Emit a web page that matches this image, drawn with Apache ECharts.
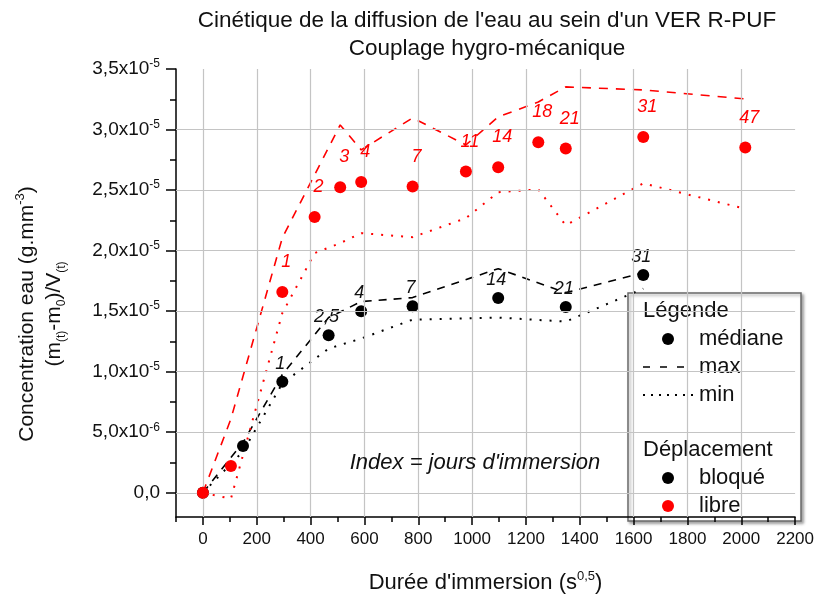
<!DOCTYPE html>
<html>
<head>
<meta charset="utf-8">
<script src="https://cdn.jsdelivr.net/npm/echarts@6/dist/echarts.min.js"></script>
<style>
  html, body { margin: 0; padding: 0; background: #ffffff; }
  #chart { width: 817px; height: 601px; }
</style>
</head>
<body>
<div id="chart"></div>
<script>
// Durée d'immersion (s^0,5) — déplacement libre
const libreTemps   = [0, 104, 295, 415, 510, 588, 779, 977, 1097, 1246, 1348, 1636, 2015];
const libreMediane = [0, 0.221e-5, 1.659e-5, 2.277e-5, 2.524e-5, 2.566e-5, 2.529e-5, 2.653e-5, 2.689e-5, 2.895e-5, 2.843e-5, 2.939e-5, 2.851e-5];
const libreMax     = [0, 0.610e-5, 2.106e-5, 2.626e-5, 3.038e-5, 2.832e-5, 3.096e-5, 2.873e-5, 3.104e-5, 3.228e-5, 3.352e-5, 3.327e-5, 3.253e-5];
const libreMin     = [0, -0.049e-5, 1.484e-5, 1.979e-5, 2.062e-5, 2.144e-5, 2.111e-5, 2.268e-5, 2.482e-5, 2.506e-5, 2.209e-5, 2.556e-5, 2.345e-5];
const libreJours   = ['', '', '1', '2', '3', '4', '7', '11', '14', '18', '21', '31', '47'];

// Durée d'immersion (s^0,5) — déplacement bloqué
const bloqueTemps   = [0, 149, 295, 467, 588, 779, 1097, 1348, 1636];
const bloqueMediane = [0, 0.386e-5, 0.917e-5, 1.301e-5, 1.499e-5, 1.540e-5, 1.609e-5, 1.535e-5, 1.799e-5];
const bloqueMax     = [0, 0.416e-5, 0.977e-5, 1.447e-5, 1.579e-5, 1.612e-5, 1.851e-5, 1.653e-5, 1.818e-5];
const bloqueMin     = [0, 0.342e-5, 0.903e-5, 1.191e-5, 1.274e-5, 1.430e-5, 1.447e-5, 1.414e-5, 1.686e-5];
const bloqueJours   = ['', '', '1', '2,5', '4', '7', '14', '21', '31'];

// Graduations
const xTicks      = [0, 200, 400, 600, 800, 1000, 1200, 1400, 1600, 1800, 2000, 2200];
const xMinorTicks = [-100, 100, 300, 500, 700, 900, 1100, 1300, 1500, 1700, 1900, 2100];
const xGrid       = [0, 200, 400, 600, 800, 1000, 1200, 1400, 1600, 1800, 2000];
const yTicks      = [0, 5e-6, 1e-5, 1.5e-5, 2e-5, 2.5e-5, 3e-5, 3.5e-5];
const yMinorTicks = [2.5e-6, 7.5e-6, 1.25e-5, 1.75e-5, 2.25e-5, 2.75e-5, 3.25e-5];
const yGrid       = [0, 5e-6, 1e-5, 1.5e-5, 2e-5, 2.5e-5, 3e-5];
const yTickMantisse = ['0,0', '5,0x10', '1,0x10', '1,5x10', '2,0x10', '2,5x10', '3,0x10', '3,5x10'];
const yTickExposant = ['', '-6', '-5', '-5', '-5', '-5', '-5', '-5'];

const FONT = '"Liberation Sans", Arial, Helvetica, sans-serif';
const X_MIN = -100, X_MAX = 2200, Y_MIN = -2e-6, Y_MAX = 3.5e-5;

const pairs = (xs, ys) => xs.map((x, i) => [x, ys[i]]);

function yLabel(v) {
  const i = yTicks.findIndex(t => Math.abs(t - v) < 1e-9);
  if (i < 0) return '';
  return yTickExposant[i] ? '{m|' + yTickMantisse[i] + '}{s|' + yTickExposant[i] + '}' : '{m|' + yTickMantisse[i] + '}';
}

const chart = echarts.init(document.getElementById('chart'), null, { renderer: 'canvas' });

const baseX = {
  type: 'value', min: X_MIN, max: X_MAX, position: 'bottom',
  splitLine: { show: false }
};
const baseY = {
  type: 'value', min: Y_MIN, max: Y_MAX, position: 'left',
  splitLine: { show: false }
};

const option = {
  animation: false,
  backgroundColor: '#ffffff',
  title: {
    text: "Cinétique de la diffusion de l'eau au sein d'un VER R-PUF\nCouplage hygro-mécanique",
    left: 482, top: 2, textAlign: 'center',
    textStyle: { fontFamily: FONT, fontSize: 22.5, fontWeight: 'normal', lineHeight: 28, color: '#111' }
  },
  grid: { left: 176, right: 21, top: 69, bottom: 84, containLabel: false },
  xAxis: [
    Object.assign({}, baseX, {
      axisLine: { onZero: false, lineStyle: { color: '#000', width: 1.5 } },
      axisTick: { show: true, inside: false, length: 8, customValues: xTicks, lineStyle: { color: '#000', width: 1.5 } },
      axisLabel: { show: true, customValues: xTicks, margin: 14, fontFamily: FONT, fontSize: 17, color: '#111',
                   formatter: v => String(v) },
      name: "{a|Durée d'immersion (s}{p|0,5}{a|)}",
      nameLocation: 'middle', nameGap: 53,
      nameTextStyle: {
        rich: {
          a: { fontFamily: FONT, fontSize: 22, color: '#111', lineHeight: 26 },
          p: { fontFamily: FONT, fontSize: 13, color: '#111', verticalAlign: 'top', lineHeight: 14 }
        }
      }
    }),
    Object.assign({}, baseX, {
      axisLine: { show: false, onZero: false },
      axisTick: { show: true, length: 5, customValues: xMinorTicks, lineStyle: { color: '#000', width: 1.5 } },
      axisLabel: { show: false }
    })
  ],
  yAxis: [
    Object.assign({}, baseY, {
      axisLine: { show: true, onZero: false, lineStyle: { color: '#000', width: 1.5 } },
      axisTick: { show: true, length: 10, customValues: yTicks, lineStyle: { color: '#000', width: 1.5 } },
      axisLabel: {
        show: true, customValues: yTicks, margin: 16, formatter: yLabel,
        rich: {
          m: { fontFamily: FONT, fontSize: 19, color: '#111', lineHeight: 22 },
          s: { fontFamily: FONT, fontSize: 12, color: '#111', verticalAlign: 'top', lineHeight: 12 }
        }
      },
      name: '{a|Concentration eau (g.mm}{p|-3}{a|)}\n{a|(m}{b|(t)}{a|-m}{b|0}{a|)/V}{b|(t)}',
      nameLocation: 'middle', nameRotate: 90, nameGap: 108,
      nameTextStyle: {
        padding: [0, 42, 0, 0],
        rich: {
          a: { fontFamily: FONT, fontSize: 21, color: '#111', lineHeight: 27 },
          p: { fontFamily: FONT, fontSize: 13, color: '#111', verticalAlign: 'top', lineHeight: 14 },
          b: { fontFamily: FONT, fontSize: 12, color: '#111', verticalAlign: 'bottom', lineHeight: 14 }
        }
      }
    }),
    Object.assign({}, baseY, {
      axisLine: { show: false, onZero: false },
      axisTick: { show: true, length: 6, customValues: yMinorTicks, lineStyle: { color: '#000', width: 1.5 } },
      axisLabel: { show: false }
    })
  ],
  series: [
    {
      // quadrillage
      type: 'line', data: [], silent: true, z: 1, xAxisIndex: 0, yAxisIndex: 0,
      markLine: {
        silent: true, symbol: ['none', 'none'], label: { show: false }, animation: false,
        precision: 12,
        lineStyle: { color: '#c4c4c4', width: 1.2, type: 'solid' },
        emphasis: { disabled: true },
        data: xGrid.map(v => ({ xAxis: v })).concat(yGrid.map(v => ({ yAxis: v })))
      }
    },
    {
      name: 'bloqué max', type: 'line', data: pairs(bloqueTemps, bloqueMax), symbol: 'none', z: 3,
      lineStyle: { color: '#000', width: 1.6, type: [8, 7], opacity: 1 }
    },
    {
      name: 'bloqué min', type: 'line', data: pairs(bloqueTemps, bloqueMin), symbol: 'none', z: 3,
      lineStyle: { color: '#000', width: 2, type: [2, 8], opacity: 1 }
    },
    {
      name: 'libre max', type: 'line', data: pairs(libreTemps, libreMax), symbol: 'none', z: 3,
      lineStyle: { color: '#ff0000', width: 1.6, type: [9, 8], opacity: 1 }
    },
    {
      name: 'libre min', type: 'line', data: pairs(libreTemps, libreMin), symbol: 'none', z: 3,
      lineStyle: { color: '#ff0000', width: 2, type: [2, 8], opacity: 1 }
    },
    {
      name: 'bloqué', type: 'scatter', data: pairs(bloqueTemps, bloqueMediane), z: 4,
      symbol: 'circle', symbolSize: 12, itemStyle: { color: '#000', opacity: 1 },
      label: {
        show: true, position: 'top', distance: 3, offset: [-2, 0],
        formatter: p => bloqueJours[p.dataIndex],
        fontFamily: FONT, fontSize: 18, fontStyle: 'italic', color: '#111'
      }
    },
    {
      name: 'libre', type: 'scatter', data: pairs(libreTemps, libreMediane), z: 5,
      symbol: 'circle', symbolSize: 12, itemStyle: { color: '#ff0000', opacity: 1 },
      label: {
        show: true, position: 'top', distance: 15, offset: [4, 0],
        formatter: p => libreJours[p.dataIndex],
        fontFamily: FONT, fontSize: 18, fontStyle: 'italic', color: '#ff0000'
      }
    }
  ],
  graphic: [
    {
      type: 'text', z: 50, silent: true,
      style: { text: "Index = jours d'immersion", x: 475, y: 463, align: 'center', verticalAlign: 'middle',
               fontFamily: FONT, fontSize: 22, fontStyle: 'italic', fill: '#111' }
    },
    {
      type: 'group', z: 100, silent: true,
      children: [
        { type: 'rect', shape: { x: 628, y: 293, width: 173, height: 228 },
          style: { fill: '#ffffff', stroke: '#6a6a6a', lineWidth: 1.5,
                   shadowBlur: 3, shadowColor: 'rgba(0,0,0,0.35)', shadowOffsetX: 2, shadowOffsetY: 2 } },
        { type: 'text', style: { text: 'Légende', x: 643, y: 311, verticalAlign: 'middle', fontFamily: FONT, fontSize: 22, fill: '#111' } },
        { type: 'circle', shape: { cx: 668, cy: 339, r: 6 }, style: { fill: '#000' } },
        { type: 'text', style: { text: 'médiane', x: 699, y: 339, verticalAlign: 'middle', fontFamily: FONT, fontSize: 22, fill: '#111' } },
        { type: 'line', shape: { x1: 643, y1: 367, x2: 684, y2: 367 }, style: { stroke: '#000', lineWidth: 1.6, lineDash: [7, 10] } },
        { type: 'text', style: { text: 'max', x: 699, y: 367, verticalAlign: 'middle', fontFamily: FONT, fontSize: 22, fill: '#111' } },
        { type: 'line', shape: { x1: 643, y1: 395, x2: 694, y2: 395 }, style: { stroke: '#000', lineWidth: 2, lineDash: [2, 6] } },
        { type: 'text', style: { text: 'min', x: 699, y: 395, verticalAlign: 'middle', fontFamily: FONT, fontSize: 22, fill: '#111' } },
        { type: 'text', style: { text: 'Déplacement', x: 643, y: 450, verticalAlign: 'middle', fontFamily: FONT, fontSize: 22, fill: '#111' } },
        { type: 'circle', shape: { cx: 668, cy: 478, r: 6 }, style: { fill: '#000' } },
        { type: 'text', style: { text: 'bloqué', x: 699, y: 478, verticalAlign: 'middle', fontFamily: FONT, fontSize: 22, fill: '#111' } },
        { type: 'circle', shape: { cx: 668, cy: 506, r: 6 }, style: { fill: '#ff0000' } },
        { type: 'text', style: { text: 'libre', x: 699, y: 506, verticalAlign: 'middle', fontFamily: FONT, fontSize: 22, fill: '#111' } }
      ]
    }
  ]
};

chart.setOption(option);
</script>
</body>
</html>
